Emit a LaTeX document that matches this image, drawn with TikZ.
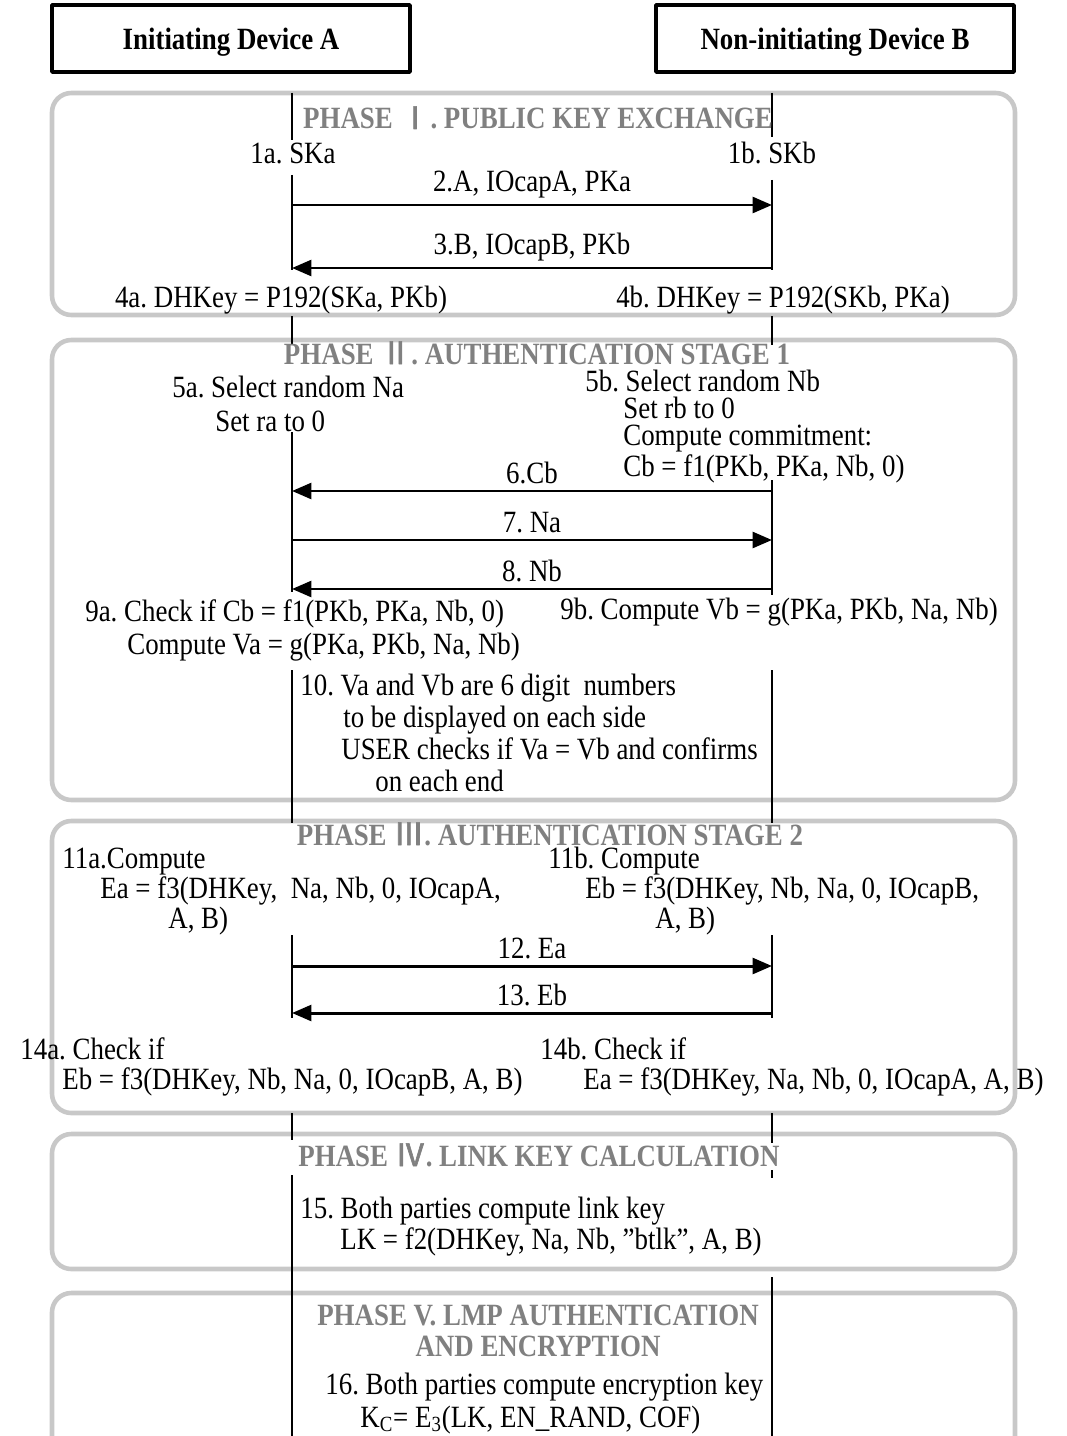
\documentclass[tikz,border=0pt]{standalone}
\usepackage{fontspec}
\setmainfont{Liberation Serif}[FakeStretch=0.87]
\newfontfamily\cjk[AutoFakeBold=2]{Noto Sans CJK SC}
\usetikzlibrary{arrows.meta}
\definecolor{phasegray}{RGB}{200,200,200}
\definecolor{headgray}{RGB}{128,128,128}
\tikzset{
	phasebox/.style={draw=phasegray, line width=2.6pt, rounded corners=11pt},
	devbox/.style={draw, line width=2.2pt, minimum width=7.16cm, minimum height=1.34cm, text depth=0pt, font=\fontsize{17.6}{18}\selectfont\bfseries},
	head/.style={text=headgray, anchor=base, align=center, inner sep=0pt, font=\fontsize{17.6}{17.6}\selectfont\bfseries},
	txt/.style={anchor=base west, align=left, inner sep=0pt, font=\fontsize{17.6}{#1}\selectfont},
	txt/.default=18pt,
	ctxt/.style={txt, anchor=base},
	lbl/.style={midway, above=3pt, inner sep=0pt, font=\fontsize{17.6}{18}\selectfont},
	life/.style={line width=0.8pt},
	msg/.style={line width=1.7pt, -{Triangle[length=11pt,width=9pt]}},
}
\frenchspacing
\begin{document}
\begin{tikzpicture}[x=0.02cm, y=-0.02cm, line join=round]
		\useasboundingbox (0,0) rectangle (1066,1436);
		% devices
		\node[devbox] (devA) at (231,38.5) {Initiating Device A};
		\node[devbox] (devB) at (835,38.5) {Non-initiating Device B};
		\coordinate (A) at (292,0);
		\coordinate (B) at (772,0);
		% phase frames
		\draw[phasebox] (52,93) rectangle (1015,315);
		\draw[phasebox] (52,340) rectangle (1015,800);
		\draw[phasebox] (52,821) rectangle (1015,1113);
		\draw[phasebox] (52,1134) rectangle (1015,1269);
		\draw[phasebox] (52,1293) rectangle (1015,1490);
		% life lines
		\foreach \ya/\yb in {93/140, 175/270, 316/345, 432/592, 670/823, 935/1018, 1113/1140, 1175/1436}
			\draw[life] (A |- 0,\ya) -- (A |- 0,\yb);
		\foreach \ya/\yb in {93/137, 180/270, 316/345, 480/595, 670/823, 935/1018, 1113/1143, 1170/1178, 1277/1436}
			\draw[life] (B |- 0,\ya) -- (B |- 0,\yb);
		% phase I
		\node[head] (h1) at (538,129) {PHASE {\cjk Ⅰ}. PUBLIC KEY EXCHANGE};
		\node[ctxt] (s1a) at (293,164) {1a. SKa};
		\node[ctxt] (s1b) at (772,164) {1b. SKb};
		\draw[msg] (A |- 0,205) -- node[lbl] {2.A, IOcapA, PKa} (B |- 0,205);
		\draw[msg] (B |- 0,268) -- node[lbl] {3.B, IOcapB, PKb} (A |- 0,268);
		\node[ctxt] (s4a) at (281,307) {4a. DHKey = P192(SKa, PKb)};
		\node[ctxt] (s4b) at (783,307) {4b. DHKey = P192(SKb, PKa)};
		% phase II
		\node[head] (h2) at (537,364) {PHASE {\cjk Ⅱ}. AUTHENTICATION STAGE 1};
		\node[txt=19.3pt] (s5a) at (172,431) {5a. Select random Na\\\hspace*{0.86cm}Set ra to 0};
		\node[txt=15.5pt] (s5b) at (585,476) {5b. Select random Nb\\\hspace*{0.76cm}Set rb to 0\\\hspace*{0.76cm}Compute commitment:\\\hspace*{0.76cm}Cb = f1(PKb, PKa, Nb, 0)};
		\draw[msg] (B |- 0,491) -- node[lbl] {6.Cb} (A |- 0,491);
		\draw[msg] (A |- 0,540) -- node[lbl] {7. Na} (B |- 0,540);
		\draw[msg] (B |- 0,589) -- node[lbl] {8. Nb} (A |- 0,589);
		\node[txt=18.7pt] (s9a) at (85,654) {9a. Check if Cb = f1(PKb, PKa, Nb, 0)\\\hspace*{0.84cm}Compute Va = g(PKa, PKb, Na, Nb)};
		\node[txt] (s9b) at (560,619) {9b. Compute Vb = g(PKa, PKb, Na, Nb)};
		\node[txt=18.1pt] (s10) at (300,791) {10. Va and Vb are 6 digit\ \ numbers\\\hspace*{0.86cm}to be displayed on each side\\\hspace*{0.82cm}USER checks if Va = Vb and confirms\\\hspace*{1.5cm}on each end};
		% phase III
		\node[head] (h3) at (550,845) {PHASE {\cjk Ⅲ}. AUTHENTICATION STAGE 2};
		\node[txt=15.9pt] (s11a) at (62,928) {11a.Compute\\\hspace*{0.76cm}Ea = f3(DHKey,\ \ Na, Nb, 0, IOcapA,\\\hspace*{2.12cm}A, B)};
		\node[txt=15.9pt] (s11b) at (548,928) {11b. Compute\\\hspace*{0.74cm}Eb = f3(DHKey, Nb, Na, 0, IOcapB,\\\hspace*{2.14cm}A, B)};
		\draw[msg] (A |- 0,966) -- node[lbl] {12. Ea} (B |- 0,966);
		\draw[msg] (B |- 0,1013) -- node[lbl] {13. Eb} (A |- 0,1013);
		\node[txt=17pt] (s14a) at (20,1089) {14a. Check if\\\hspace*{0.84cm}Eb = f3(DHKey, Nb, Na, 0, IOcapB, A, B)};
		\node[txt=17pt] (s14b) at (540,1089) {14b. Check if\\\hspace*{0.86cm}Ea = f3(DHKey, Na, Nb, 0, IOcapA, A, B)};
		% phase IV
		\node[head] (h4) at (539,1166) {PHASE {\cjk Ⅳ}. LINK KEY CALCULATION};
		\node[txt=15.3pt] (s15) at (300,1249) {15. Both parties compute link key\\\hspace*{0.8cm}LK = f2(DHKey, Na, Nb, ”btlk”, A, B)};
		% phase V
		\node[head] (h5) at (538,1356) {PHASE V. LMP AUTHENTICATION\\AND ENCRYPTION};
		\node[txt=18.7pt] (s16) at (325,1427) {16. Both parties compute encryption key\\\hspace*{0.7cm}K\textsubscript{C}= E\textsubscript{3}(LK, EN\_RAND, COF)};
	\end{tikzpicture}
\end{document}
